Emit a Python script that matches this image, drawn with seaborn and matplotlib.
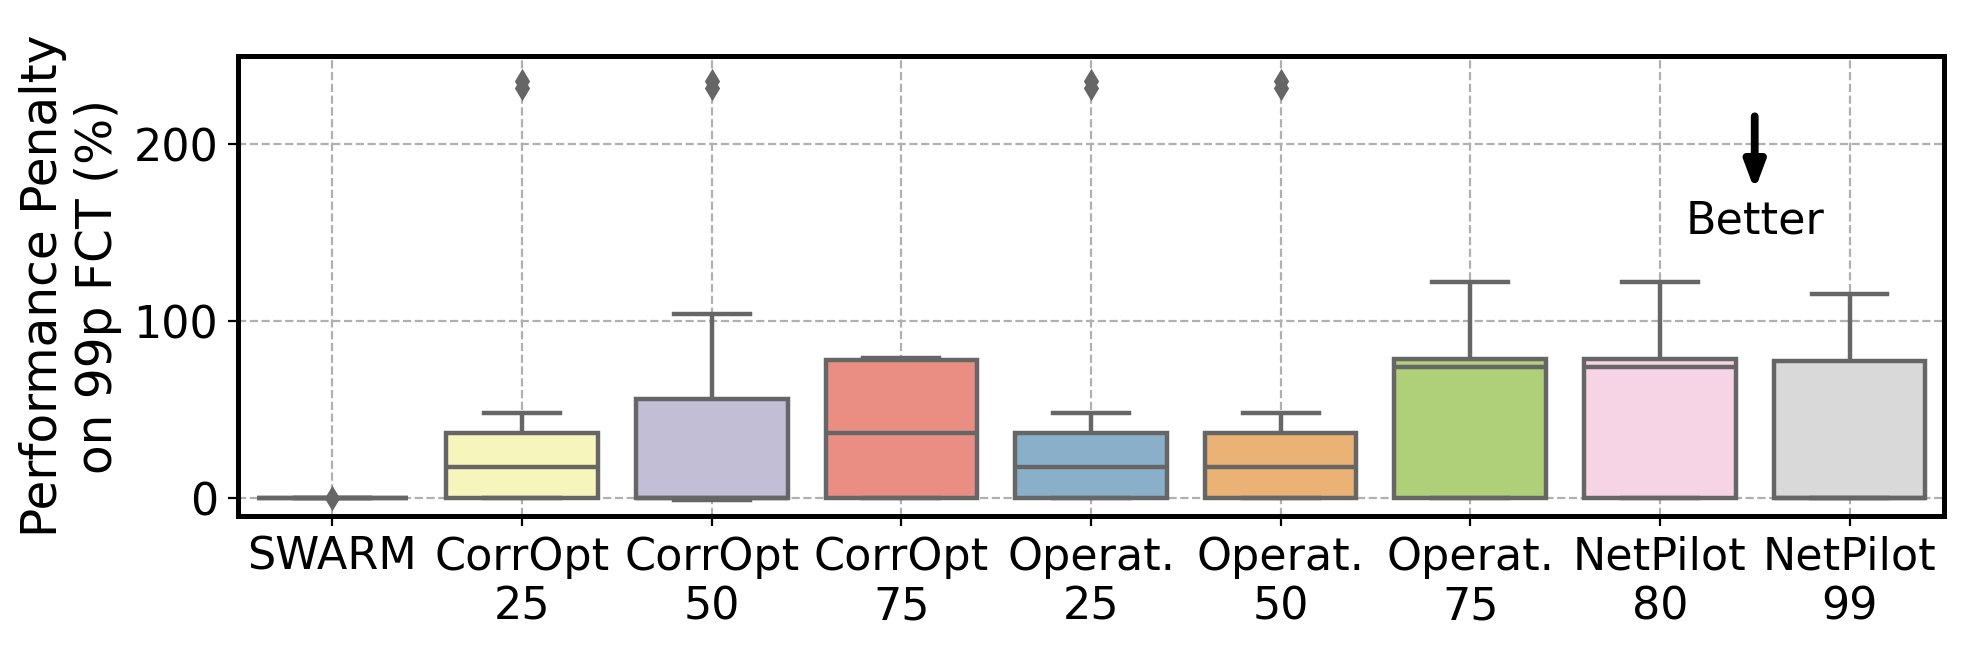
import matplotlib
matplotlib.use("Agg")
import matplotlib.pyplot as plt
import seaborn as sns
import pandas as pd

labels = ["SWARM", "CorrOpt\n25", "CorrOpt\n50", "CorrOpt\n75", "Operat.\n25",
          "Operat.\n50", "Operat.\n75", "NetPilot\n80", "NetPilot\n99"]

swarm = [0, 0, 0, 0, 0, 0, 0, 0, 0, 0, 0, 0, 0.3]
corropt_25 = [0, 0, 0, 0, 5, 12, 18, 24, 30, 37, 48, 232, 236]
corropt_50 = [-1, 0, 0, 0, 0, 0, 0, 10, 25, 56, 104, 232, 236]
corropt_75 = [0, 0, 0, 0, 10, 25, 37, 50, 65, 78, 78.5, 79, 79.6]
operat_25 = [0, 0, 0, 0, 5, 12, 18, 24, 30, 37, 48, 232, 236]
operat_50 = [0, 0, 0, 0, 5, 12, 18, 24, 30, 37, 48, 232, 236]
operat_75 = [0, 0, 0, 0, 30, 60, 74.5, 76, 77, 79, 90, 110, 122]
netpilot_80 = [0, 0, 0, 0, 30, 60, 74.5, 76, 77, 79, 90, 110, 122]
netpilot_99 = [0, 0, 0, 0, 0, 0, 0, 20, 50, 77.5, 90, 105, 115.5]

series = [swarm, corropt_25, corropt_50, corropt_75, operat_25,
          operat_50, operat_75, netpilot_80, netpilot_99]

rows = []
for lab, vals in zip(labels, series):
    for v in vals:
        rows.append({"method": lab, "penalty": v})
df = pd.DataFrame(rows)

fig, ax = plt.subplots(figsize=(9.82, 3.25), dpi=200)

sns.boxplot(
    data=df, x="method", y="penalty", hue="method", order=labels,
    palette="Set3", saturation=0.75, width=0.8, legend=False,
    linecolor="#666666", linewidth=1.6,
    flierprops=dict(marker="d", markerfacecolor="#666666",
                    markeredgecolor="#666666", markersize=5),
    ax=ax,
)

ax.set_ylim(-10, 250)
ax.set_xlim(-0.5, 8.5)
ax.set_yticks([0, 100, 200])
ax.grid(True, linestyle="--", color="#b0b0b0", linewidth=0.8)
ax.set_axisbelow(True)
ax.set_xlabel("")
ax.set_ylabel("Performance Penalty\non 99p FCT (%)", fontsize=17.5)
ax.tick_params(axis="both", labelsize=16)
for sp in ax.spines.values():
    sp.set_linewidth(1.8)
    sp.set_color("black")

# "Better" arrow
ax.annotate("", xy=(7.5, 171), xytext=(7.5, 219),
            arrowprops=dict(arrowstyle="-|>,head_width=0.3,head_length=0.8",
                            color="black", lw=2.8))
ax.text(7.5, 157, "Better", ha="center", va="center", fontsize=16)

plt.subplots_adjust(left=0.121, right=0.99, top=0.914, bottom=0.206)
plt.savefig("out.png", dpi=200)
